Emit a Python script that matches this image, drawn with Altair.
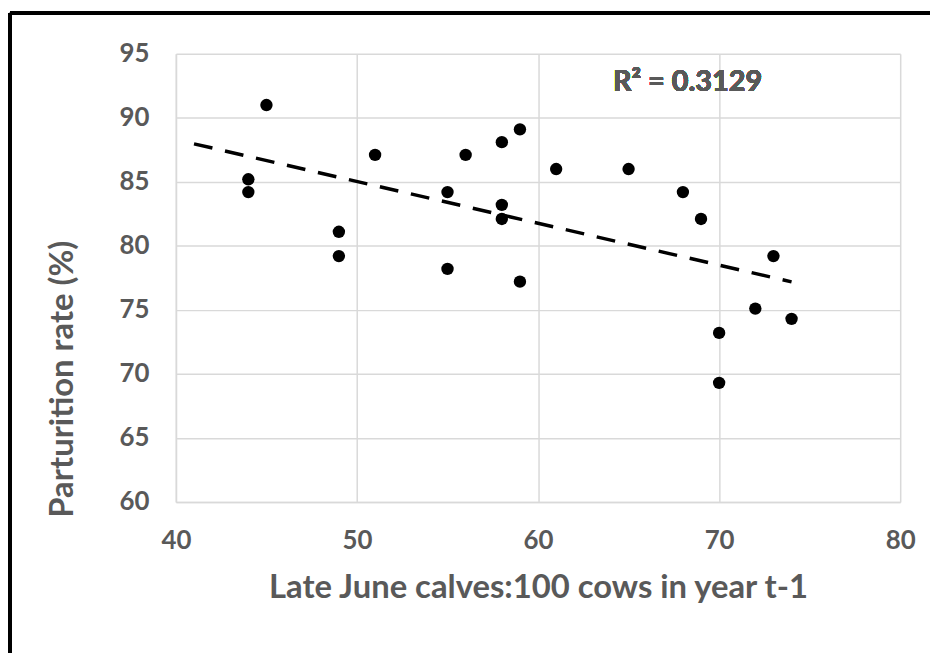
import altair as alt
import pandas as pd

# Late June calves:100 cows in year t-1
calves = [45, 44, 44, 51, 49, 49, 55, 56, 58, 59, 58, 58, 55, 59, 61, 65, 68, 69, 73, 72, 74, 70, 70]
# Parturition rate (%)
parturition = [91.0, 85.2, 84.2, 87.1, 81.1, 79.2, 84.2, 87.1, 88.1, 89.1, 83.2, 82.1,
               78.2, 77.2, 86.0, 86.0, 84.2, 82.1, 79.2, 75.1, 74.3, 73.2, 69.3]
x_ticks = [40, 50, 60, 70, 80]
y_ticks = [60, 65, 70, 75, 80, 85, 90, 95]
trend_extent = [41, 74]
r2_label = "R² = 0.3129"

df = pd.DataFrame({"calves": calves, "rate": parturition})

FONT = "Lato"
GREY = "#595959"
GRID = "#d9d9d9"

xenc = alt.X("calves:Q",
             scale=alt.Scale(domain=[40, 80], nice=False, zero=False),
             axis=alt.Axis(values=x_ticks, title="Late June calves:100 cows in year t-1",
                           titleY=86, titleBaseline="middle", labelFlush=False))
yenc = alt.Y("rate:Q",
             scale=alt.Scale(domain=[60, 95], nice=False, zero=False),
             axis=alt.Axis(values=y_ticks, title="Parturition rate (%)",
                           titleX=-114, titleY=327, titleBaseline="middle", labelFlush=False))

points = alt.Chart(df).mark_circle(size=155, color="black", opacity=1).encode(x=xenc, y=yenc)

trend = alt.Chart(df).transform_regression(
    "calves", "rate", extent=trend_extent
).mark_line(color="black", strokeWidth=3.5, strokeDash=[19, 13]).encode(x=xenc, y=yenc)

r2 = alt.Chart(df).mark_text(
    text=r2_label, font=FONT, fontWeight="bold", fontSize=29, color=GREY,
    align="center", baseline="middle"
).encode(x=alt.value(515), y=alt.value(28))

frame_top = alt.Chart(df).mark_rule(color="black", strokeWidth=2.5, clip=False).encode(
    x=alt.value(-167), x2=alt.value(770), y=alt.value(-41)
)
frame_left = alt.Chart(df).mark_rule(color="black", strokeWidth=2.5, clip=False).encode(
    x=alt.value(-167), y=alt.value(-41), y2=alt.value(640)
)

chart = alt.layer(trend, points, r2, frame_top, frame_left).properties(
    width=729, height=451,
    autosize=alt.AutoSizeParams(type="none"),
    padding={"left": 169, "top": 44, "right": 30, "bottom": 150},
).configure_view(stroke=None).configure_axis(
    labelFont=FONT, labelFontWeight="bold", labelFontSize=26, labelColor=GREY,
    titleFont=FONT, titleFontWeight="bold", titleFontSize=33, titleColor=GREY,
    gridColor=GRID, gridWidth=1.5, domainColor=GRID, domainWidth=1.5, ticks=False,
).configure_axisX(labelPadding=26).configure_axisY(labelPadding=27)

chart.save("out.html", embed_options={"renderer": "svg", "actions": False})
